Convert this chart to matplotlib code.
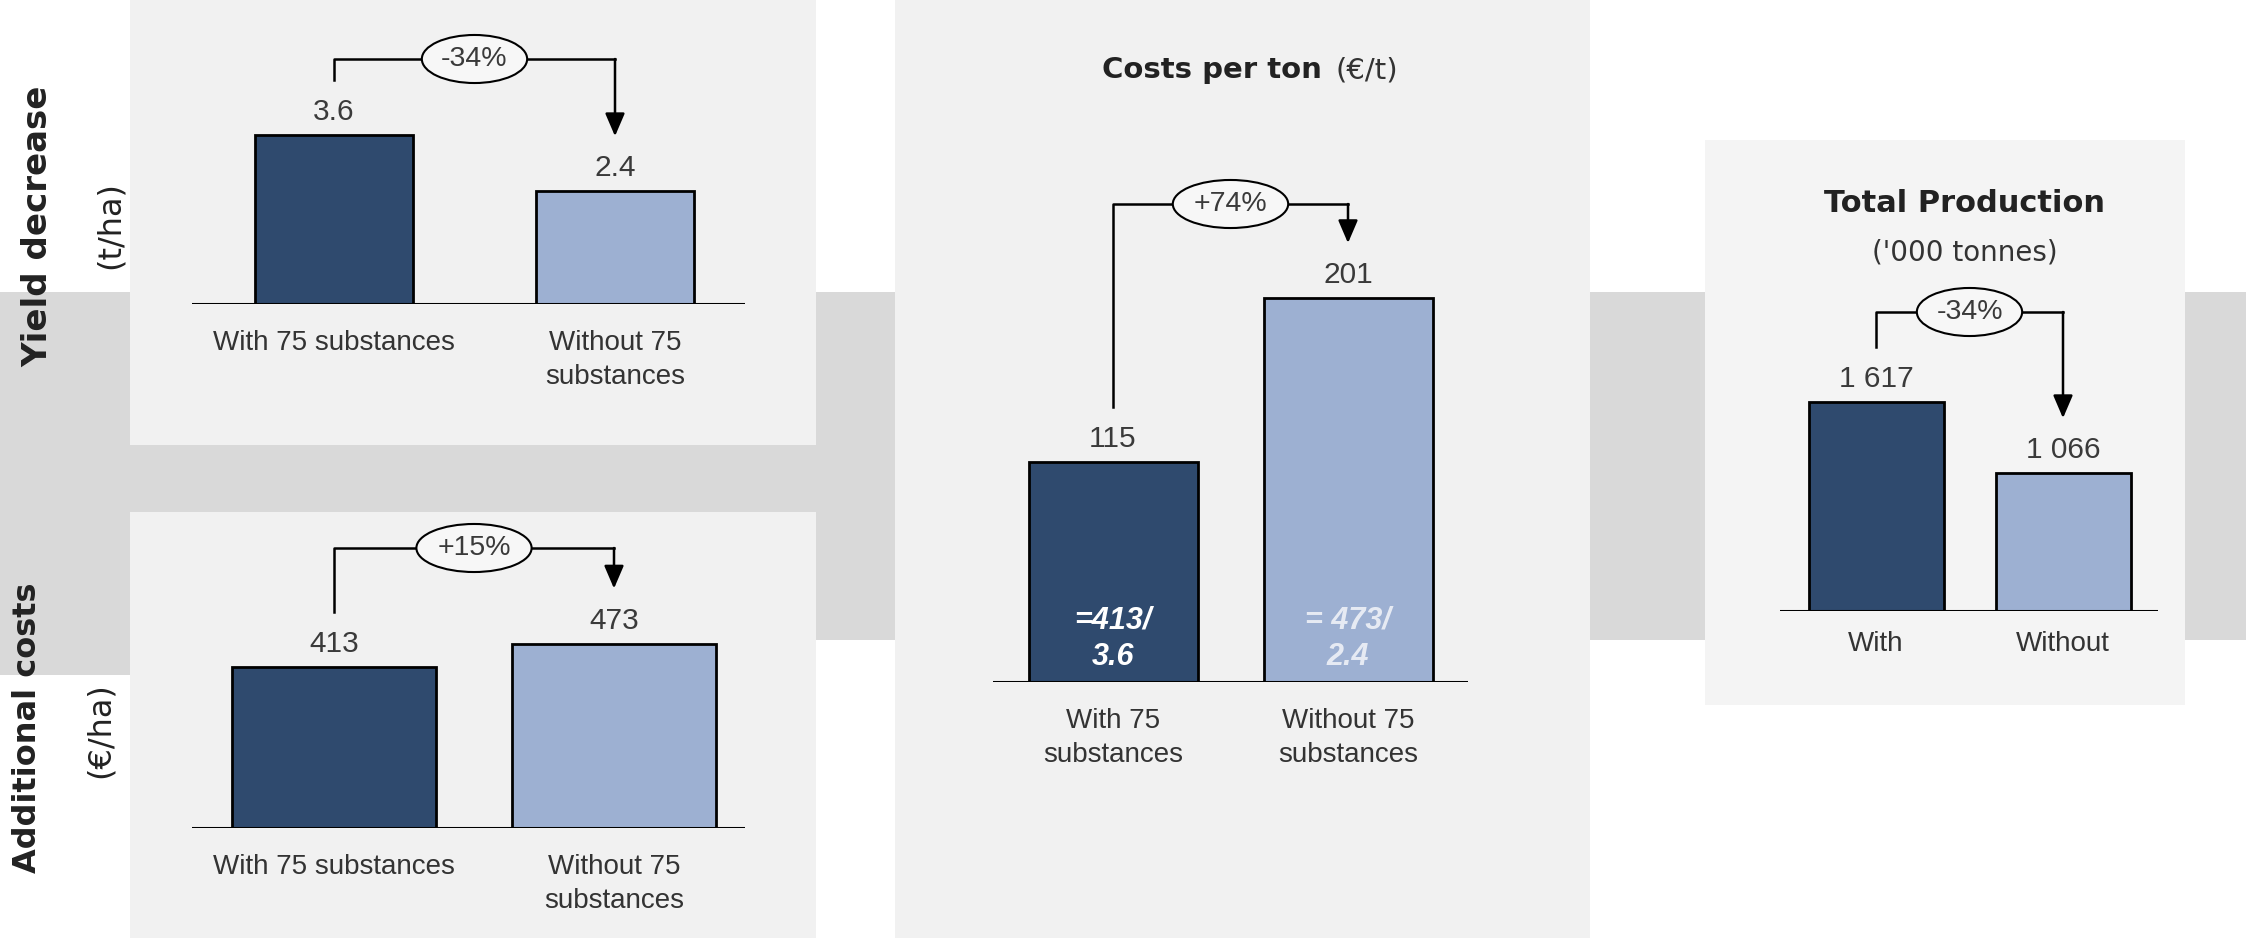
import numpy as np
import matplotlib
matplotlib.use('Agg')
import matplotlib.pyplot as plt
from matplotlib.patches import Rectangle

# Data
yield_cats = ['With 75 substances', 'Without 75\nsubstances']
yield_vals = [3.6, 2.4]
yield_change = '-34%'

cost_cats = ['With 75 substances', 'Without 75\nsubstances']
cost_vals = [413, 473]
cost_change = '+15%'

ton_cats = ['With 75\nsubstances', 'Without 75\nsubstances']
ton_vals = [115, 201]
ton_formula = ['=413/\n3.6', '= 473/\n2.4']
ton_change = '+74%'

prod_cats = ['With', 'Without']
prod_vals = [1617, 1066]
prod_change = '-34%'

# Style
W, H = 2246, 938
DARK = '#2f4a6e'
LIGHT = '#9db0d2'
BAND = '#d9d9d9'
PANEL = '#f1f1f1'
TXT = '#3a3a3a'
LAB_FONT = ['Liberation Sans', 'DejaVu Sans']
HEAD_FONT = ['DejaVu Sans']

fig = plt.figure(figsize=(W / 100, H / 100), dpi=100)
fig.patch.set_facecolor('white')


def bg_rect(x0, y0, x1, y1, color, z=-10):
    # pixel box, origin at top-left
    fig.add_artist(Rectangle((x0 / W, 1 - y1 / H), (x1 - x0) / W, (y1 - y0) / H,
                             transform=fig.transFigure, facecolor=color,
                             edgecolor='none', zorder=z))


# background band and panels
bg_rect(0, 292, W, 640, BAND)
bg_rect(0, 292, 130, 675, BAND)
bg_rect(130, 0, 816, 445, PANEL, -9)
bg_rect(130, 512, 816, H, PANEL, -9)
bg_rect(895, 0, 1590, H, PANEL, -9)
bg_rect(1705, 140, 2185, 705, '#f4f4f4', -9)


def panel(geo, vals, cats, change, fmt, cat_off=-26):
    left, right, base, top, c0, c1, bw, ppu, btop = geo
    ax = fig.add_axes([left / W, 1 - base / H, (right - left) / W, (base - top) / H])
    ux = c1 - c0
    ax.set_xlim((left - c0) / ux, (right - c0) / ux)
    ax.set_ylim(0, (base - top) / ppu)
    ax.axis('off')
    x = np.arange(len(vals))
    ax.bar(x, vals, width=bw / ux, color=[DARK, LIGHT], edgecolor='black',
           linewidth=2, zorder=3)
    ax.axhline(0, color='black', lw=2.2, zorder=4)
    for xi, v, c in zip(x, vals, cats):
        ax.annotate(fmt(v), (xi, v), xytext=(0, 15), textcoords='offset pixels',
                    ha='center', va='baseline', fontsize=21.5, color=TXT,
                    family=LAB_FONT)
        ax.annotate(c, (xi, 0), xytext=(0, cat_off), textcoords='offset pixels',
                    ha='center', va='top', fontsize=20, color='#333333',
                    family=LAB_FONT, linespacing=1.4)
    # bracket with arrow
    gap = 55 / ppu
    y_top = (base - btop) / ppu
    ax.plot([0, 0, 1], [vals[0] + gap, y_top, y_top], color='black', lw=1.8,
            clip_on=False, zorder=5)
    ax.annotate('', xy=(1, vals[1] + gap), xytext=(1, y_top),
                arrowprops=dict(arrowstyle='-|>,head_length=0.7,head_width=0.3',
                                color='black', lw=1.8, shrinkA=0, shrinkB=0,
                                mutation_scale=20),
                annotation_clip=False, zorder=5)
    ax.text(0.5, y_top, change, ha='center', va='center', fontsize=20.5,
            color=TXT, family=LAB_FONT, zorder=6,
            bbox=dict(boxstyle='ellipse,pad=0.14', fc='#f7f7f7', ec='black', lw=1.5))
    return ax


plain = lambda v: str(v)
spaced = lambda v: f'{v:,}'.replace(',', ' ')

# left, right, baseline, top, centre0, centre1, bar width, px per unit, bracket top
panel((192, 745, 304, 10, 334, 615, 158, 47.0, 59), yield_vals, yield_cats,
      yield_change, plain)
panel((192, 745, 828, 520, 334, 614, 204, 0.39, 548), cost_vals, cost_cats,
      cost_change, plain)
ax_ton = panel((993, 1468, 682, 120, 1113, 1348, 169, 1.91, 204), ton_vals,
               ton_cats, ton_change, plain)
panel((1780, 2158, 611, 290, 1876, 2063, 135, 0.1293, 312), prod_vals, prod_cats,
      prod_change, spaced, cat_off=-20)

# formulas inside the cost-per-ton bars
for i, t in enumerate(ton_formula):
    ax_ton.annotate(t, (i, 0), xytext=(0, 43), textcoords='offset pixels',
                    ha='center', va='center', fontsize=22, color='white',
                    alpha=1.0 if i == 0 else 0.75, fontweight='bold',
                    fontstyle='italic', family=LAB_FONT, linespacing=1.3,
                    zorder=6)

# side labels
fig.text(38 / W, 1 - 226 / H, 'Yield decrease', rotation=90, ha='center',
         va='center', fontsize=24.5, fontweight='bold', color='#222222', family=HEAD_FONT)
fig.text(110 / W, 1 - 225 / H, '(t/ha)', rotation=90, ha='center', va='center',
         fontsize=23, color='#222222', family=HEAD_FONT)
fig.text(28 / W, 1 - 728 / H, 'Additional costs', rotation=90, ha='center',
         va='center', fontsize=23, fontweight='bold', color='#222222', family=HEAD_FONT)
fig.text(100 / W, 1 - 730 / H, '(€/ha)', rotation=90, ha='center', va='center',
         fontsize=23, color='#222222', family=HEAD_FONT)

# titles
fig.text(1322 / W, 1 - 70 / H, 'Costs per ton', ha='right', va='center',
         fontsize=21, fontweight='bold', color='#222222', family=HEAD_FONT)
fig.text(1335 / W, 1 - 70 / H, '(€/t)', ha='left', va='center',
         fontsize=21, color='#333333', family=HEAD_FONT)
fig.text(1965 / W, 1 - 203 / H, 'Total Production', ha='center', va='center',
         fontsize=22, fontweight='bold', color='#222222', family=HEAD_FONT)
fig.text(1965 / W, 1 - 252 / H, "('000 tonnes)", ha='center', va='center',
         fontsize=20, color='#333333', family=HEAD_FONT)

fig.savefig('out.png', dpi=100, facecolor=fig.get_facecolor())
